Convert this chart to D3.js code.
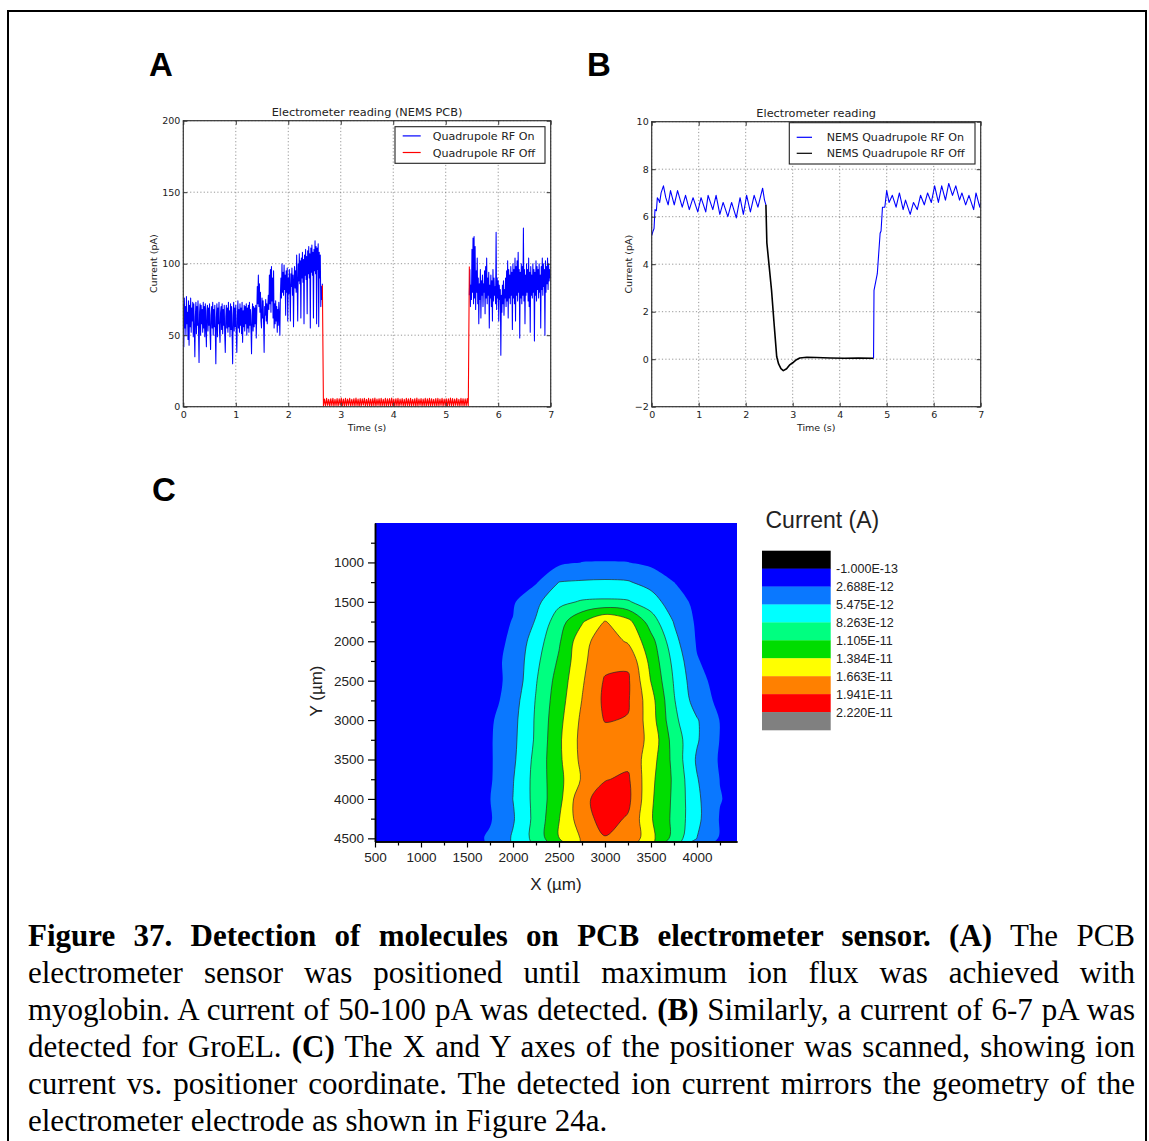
<!DOCTYPE html>
<html>
<head>
<meta charset="utf-8">
<script src="https://cdn.jsdelivr.net/npm/d3@7"></script>
<style>
  body { margin: 0; background: #fff; }
  #page { position: relative; width: 1149px; height: 1141px; overflow: hidden; background: #fff; }
  #fig { position: absolute; left: 0; top: 0; }
  .cap { position: absolute; left: 28px; width: 1107px; font-family: "Liberation Serif", "Times New Roman", serif;
         font-size: 31px; line-height: 37px; color: #000; }
  .just { text-align: justify; text-align-last: justify; }
</style>
</head>
<body>
<div id="page">
  <svg id="fig" width="1149" height="1141"></svg>
  <div id="caption"></div>
</div>
<script>
// ---------------- Panel A: NEMS PCB electrometer, myoglobin (pA) ----------------
const timeTicks = [0, 1, 2, 3, 4, 5, 6, 7];
const currentTicksA = [0, 50, 100, 150, 200];
const seriesNamesA = ["Quadrupole RF On", "Quadrupole RF Off"];

// RF on, first stretch: sampled every 0.01 s starting at 0 s
const rfOnA1Start = 0, rfOnA1Step = 0.01;
const rfOnA1 = [
  72, 42, 76, 55, 70, 50, 77, 58, 66, 47,
  74, 43, 71, 56, 76, 52, 69, 60, 73, 49,
  72, 54, 35, 63, 73, 51, 70, 57, 74, 53,
  31, 66, 72, 50, 71, 58, 68, 52, 73, 55,
  70, 49, 72, 56, 42, 67, 71, 53, 69, 57,
  72, 51, 40, 64, 70, 55, 73, 50, 68, 56,
  71, 53, 30, 62, 72, 49, 69, 58, 73, 52,
  45, 66, 70, 54, 72, 51, 68, 57, 71, 50,
  38, 63, 71, 55, 69, 52, 73, 56, 67, 49,
  72, 54, 70, 51, 30, 64, 73, 53, 69, 56,
  71, 50, 38, 62, 74, 55, 68, 52, 72, 57,
  69, 51, 73, 45, 67, 56, 71, 53, 70, 58,
  72, 50, 69, 55, 71, 52, 73, 57, 68, 54,
  37, 64, 72, 53, 70, 56, 69, 58, 71, 48,
  66, 84, 72, 92, 70, 86, 66, 80, 60, 55,
  76, 62, 74, 58, 38, 70, 64, 75, 60, 72,
  58, 70, 78, 68, 92, 72, 96, 66, 98, 74,
  90, 62, 95, 55, 72, 58, 74, 60, 70, 52,
  68, 57, 73, 62, 50, 78, 90, 76, 100, 80,
  94, 78, 99, 82, 92, 64, 95, 80, 97, 60,
  90, 79, 96, 82, 60, 93, 84, 97, 78, 92,
  56, 88, 98, 83, 95, 80, 106, 85, 60, 100,
  88, 107, 86, 102, 62, 104, 90, 108, 87, 103,
  58, 106, 92, 110, 89, 105, 65, 109, 93, 112,
  90, 107, 55, 111, 94, 113, 92, 108, 62, 110,
  95, 116, 93, 112, 58, 111, 96, 114, 56, 108,
  90, 106, 70, 84, 75, 86
];
// RF on, second stretch: sampled every 0.01 s starting at 5.45 s
const rfOnA2Start = 5.45, rfOnA2Step = 0.01;
const rfOnA2 = [
  78, 96, 70, 85, 75, 110, 80, 118, 72, 119,
  76, 112, 68, 95, 80, 104, 72, 90, 58, 86,
  75, 96, 62, 88, 78, 92, 70, 86, 80, 95,
  65, 98, 76, 104, 72, 90, 78, 94, 55, 85,
  76, 92, 70, 88, 60, 96, 74, 90, 78, 84,
  72, 122, 68, 90, 76, 88, 60, 85, 75, 82,
  36, 78, 66, 85, 72, 88, 64, 82, 76, 90,
  70, 95, 74, 102, 62, 96, 76, 92, 72, 98,
  78, 94, 54, 100, 76, 96, 72, 104, 60, 98,
  78, 102, 74, 108, 80, 96, 48, 94, 76, 100,
  72, 98, 78, 125, 74, 96, 58, 92, 78, 100,
  80, 96, 74, 104, 70, 94, 52, 98, 78, 92,
  76, 100, 80, 96, 46, 94, 78, 102, 74, 98,
  82, 96, 76, 100, 80, 92, 55, 98, 82, 104,
  78, 100, 84, 96, 50, 102, 80, 98, 86, 104,
  82, 100, 88, 96, 90, 92
];
// RF off: sampled every 0.02 s starting at 2.65 s
const rfOffAStart = 2.65, rfOffAStep = 0.02;
const rfOffA = [
  85, 0.6, 5.4, 0.3, 5.8, 0.9, 5.1, 0.2, 5.6, 0.7,
  5.9, 0.4, 5.2, 0.8, 5.7, 0.3, 5.5, 1.0, 6.0, 0.5,
  5.3, 0.2, 5.8, 0.6, 5.4, 0.9, 5.9, 0.3, 5.2, 0.7,
  5.6, 0.4, 6.1, 0.8, 5.3, 0.2, 5.7, 0.6, 5.5, 1.0,
  5.8, 0.3, 5.1, 0.7, 5.9, 0.5, 5.4, 0.2, 5.7, 0.8,
  6.0, 0.4, 5.3, 0.9, 5.6, 0.3, 5.8, 0.6, 5.2, 0.5,
  5.9, 0.2, 5.5, 0.7, 5.7, 0.4, 6.1, 0.8, 5.3, 0.3,
  5.6, 0.6, 5.8, 0.2, 5.4, 0.9, 5.7, 0.5, 5.1, 0.4,
  5.9, 0.7, 5.5, 0.3, 5.8, 0.6, 5.2, 0.8, 5.6, 0.2,
  6.0, 0.5, 5.4, 0.9, 5.7, 0.3, 5.3, 0.6, 5.9, 0.4,
  5.5, 0.8, 5.8, 0.2, 5.6, 0.7, 5.2, 0.5, 5.7, 0.3,
  5.9, 0.6, 5.4, 0.9, 5.8, 0.4, 5.3, 0.7, 5.6, 0.2,
  5.5, 0.8, 6.0, 0.3, 5.7, 0.5, 5.4, 0.9, 5.8, 0.6,
  5.2, 0.4, 5.9, 0.7, 5.6, 0.3, 5.5, 0.8, 5.7, 0.5,
  98
];

// ---------------- Panel B: electrometer, GroEL (pA) ----------------
const currentTicksB = [-2, 0, 2, 4, 6, 8, 10];
const seriesNamesB = ["NEMS Quadrupole RF On", "NEMS Quadrupole RF Off"];
const rfOnB1 = [
  [0, 5.2], [0.03, 5.4], [0.05, 5.5], [0.07, 6.3], [0.1, 6.25], [0.12, 6.8], [0.15, 6.7], [0.17, 6.6],
  [0.2, 7.0], [0.25, 7.3], [0.3, 6.8], [0.35, 6.5], [0.4, 7.1], [0.48, 6.5], [0.55, 7.1], [0.65, 6.4],
  [0.72, 6.9], [0.8, 6.3], [0.88, 6.8], [0.98, 6.2], [1.05, 6.8], [1.15, 6.2], [1.2, 6.9], [1.3, 6.3],
  [1.37, 6.9], [1.45, 6.1], [1.52, 6.6], [1.62, 6.0], [1.7, 6.6], [1.8, 5.95], [1.88, 6.8], [1.95, 6.1],
  [2.02, 6.9], [2.1, 6.2], [2.18, 6.9], [2.26, 6.4], [2.36, 7.2], [2.4, 6.7], [2.43, 6.5]
];
const rfOffB = [
  [2.43, 6.5], [2.45, 4.9], [2.5, 3.9], [2.55, 2.9], [2.6, 1.6], [2.62, 1.1], [2.66, 0.1], [2.7, -0.2],
  [2.75, -0.4], [2.8, -0.48], [2.87, -0.4], [2.93, -0.25], [3.0, -0.15], [3.08, -0.02], [3.15, 0.05],
  [3.3, 0.08], [3.5, 0.07], [3.8, 0.05], [4.1, 0.04], [4.4, 0.05], [4.72, 0.04]
];
const rfOnB2 = [
  [4.72, 0.04], [4.73, 2.9], [4.8, 3.6], [4.86, 5.3], [4.88, 5.4], [4.91, 6.4], [4.96, 6.4], [5.0, 7.1],
  [5.05, 6.6], [5.12, 6.9], [5.2, 6.4], [5.27, 7.0], [5.35, 6.3], [5.4, 6.7], [5.5, 6.1], [5.57, 6.6],
  [5.65, 6.3], [5.72, 6.9], [5.8, 6.5], [5.87, 7.0], [5.95, 6.6], [6.02, 7.3], [6.1, 6.6], [6.17, 7.3],
  [6.25, 6.7], [6.32, 7.4], [6.4, 6.9], [6.47, 7.3], [6.55, 6.7], [6.6, 7.0], [6.68, 6.5], [6.75, 6.9],
  [6.85, 6.3], [6.9, 7.0], [6.98, 6.4], [7.0, 6.6]
];

// ---------------- Panel C: ion current map vs positioner X/Y ----------------
const gridX = [500, 750, 1000, 1250, 1500, 1750, 2000, 2250, 2500, 2750, 3000, 3250, 3500, 3750, 4000, 4250, 4500];
const gridY = [500, 750, 1000, 1250, 1500, 1750, 2000, 2250, 2500, 2750, 3000, 3250, 3500, 3750, 4000, 4250, 4500];
// current in pA, one row per Y position, one column per X position
const currentPA = [
  [1.15, 1.16, 1.14, 1.15, 1.17, 1.15, 1.14, 1.16, 1.18, 1.2, 1.19, 1.17, 1.15, 1.16, 1.14, 1.15, 1.15],
  [1.15, 1.15, 1.16, 1.14, 1.15, 1.17, 1.2, 1.24, 1.3, 1.34, 1.36, 1.33, 1.28, 1.22, 1.18, 1.16, 1.15],
  [1.2, 1.21, 1.22, 1.22, 1.24, 1.27, 1.3, 1.45, 2.13, 2.72, 2.77, 2.72, 2.13, 1.5, 1.3, 1.25, 1.22],
  [1.25, 1.26, 1.26, 1.27, 1.28, 1.3, 1.35, 2.44, 5.5, 5.75, 5.89, 5.7, 4.43, 2.7, 1.57, 1.32, 1.27],
  [1.26, 1.27, 1.27, 1.28, 1.3, 1.32, 2.38, 4.83, 7.59, 8.51, 8.68, 8.51, 6.87, 3.83, 2.05, 1.35, 1.28],
  [1.26, 1.27, 1.28, 1.29, 1.32, 1.57, 2.8, 5.7, 9.85, 13.5, 16.76, 14.73, 9.66, 5.31, 2.24, 1.43, 1.29],
  [1.27, 1.27, 1.28, 1.29, 1.3, 1.74, 3.13, 6.92, 10.69, 15.76, 18.02, 16.32, 12.08, 6.37, 2.44, 1.43, 1.29],
  [1.27, 1.28, 1.28, 1.29, 1.3, 1.85, 3.44, 7.57, 11.44, 16.04, 18.58, 18.86, 12.97, 7.48, 2.85, 1.57, 1.3],
  [1.27, 1.28, 1.28, 1.29, 1.3, 1.77, 3.44, 8.07, 12.22, 16.29, 19.69, 19.83, 13.73, 8.04, 3.47, 1.8, 1.3],
  [1.27, 1.28, 1.29, 1.29, 1.3, 1.57, 4.22, 8.43, 12.67, 16.68, 19.97, 19.69, 14.95, 8.46, 4.08, 2.05, 1.3],
  [1.27, 1.28, 1.29, 1.3, 1.43, 2.27, 4.64, 8.62, 13.09, 17.18, 19.55, 19.27, 15.23, 8.88, 5.7, 2.6, 1.57],
  [1.27, 1.28, 1.29, 1.29, 1.43, 2.41, 4.81, 8.68, 13.39, 17.46, 18.3, 18.3, 15.93, 9.82, 5.75, 2.6, 1.57],
  [1.27, 1.28, 1.29, 1.3, 1.29, 2.38, 4.97, 9.1, 13.31, 17.32, 18.3, 18.72, 15.12, 10.19, 5.11, 2.41, 1.43],
  [1.27, 1.28, 1.29, 1.3, 1.29, 2.38, 5.34, 9.27, 13.03, 16.9, 19.27, 19.83, 14.53, 10.58, 5.64, 2.63, 1.57],
  [1.27, 1.28, 1.29, 1.3, 1.43, 2.63, 5.5, 9.21, 13.0, 18.72, 20.53, 20.11, 14.28, 10.49, 6.0, 2.8, 1.71],
  [1.27, 1.28, 1.29, 1.3, 1.29, 2.44, 5.22, 9.15, 13.73, 18.3, 20.39, 19.13, 14.09, 10.38, 6.14, 2.52, 1.57],
  [1.27, 1.28, 1.29, 1.3, 1.71, 3.02, 5.75, 9.27, 13.78, 16.9, 19.27, 18.86, 14.67, 10.05, 5.45, 2.41, 1.57]
];
// contour levels in A, and the fill below/between/above them
const levelsA = [-1.000e-13, 2.688e-12, 5.475e-12, 8.263e-12, 1.105e-11, 1.384e-11, 1.663e-11, 1.941e-11, 2.220e-11];
const levelColors = ["#000000", "#0000ff", "#0a78ff", "#00ffff", "#00ff80", "#00dd00", "#ffff00", "#ff8000", "#ff0000", "#808080"];
const mapTicksX = [500, 1000, 1500, 2000, 2500, 3000, 3500, 4000];
const mapMinorX = [750, 1250, 1750, 2250, 2750, 3250, 3750, 4250];
const mapTicksY = [1000, 1500, 2000, 2500, 3000, 3500, 4000, 4500];
const mapMinorY = [750, 1250, 1750, 2250, 2750, 3250, 3750, 4250];

// ---------------- Caption ----------------
const captionLines = [
  [["Figure 37. Detection of molecules on PCB electrometer sensor. (A)", true], [" The PCB", false]],
  [["electrometer sensor was positioned until maximum ion flux was achieved with", false]],
  [["myoglobin. A current of 50-100 pA was detected. ", false], ["(B)", true], [" Similarly, a current of 6-7 pA was", false]],
  [["detected for GroEL. ", false], ["(C)", true], [" The X and Y axes of the positioner was scanned, showing ion", false]],
  [["current vs. positioner coordinate. The detected ion current mirrors the geometry of the", false]],
  [["electrometer electrode as shown in Figure 24a.", false]]
];

// =====================================================================
const svg = d3.select("#fig");
const mplFont = "'DejaVu Sans', sans-serif";
const arialFont = "'Liberation Sans', Arial, sans-serif";
const sampled = (start, step, vals) => vals.map((v, i) => [start + i * step, v]);

// outer frame around the figure
svg.append("rect").attr("x", 8).attr("y", 11).attr("width", 1138).attr("height", 1145)
  .attr("fill", "none").attr("stroke", "#000").attr("stroke-width", 2);

// panel letters
[["A", 149, 76], ["B", 587, 76], ["C", 152, 501]].forEach(([t, x, y]) => {
  svg.append("text").attr("x", x).attr("y", y).text(t)
    .attr("font-family", arialFont).attr("font-weight", "bold").attr("font-size", 33).attr("fill", "#000");
});

function tracePanel(o) {
  const x = d3.scaleLinear().domain([0, 7]).range([o.left, o.right]);
  const y = d3.scaleLinear().domain(o.yDomain).range([o.bottom, o.top]);
  const g = svg.append("g");
  const clipId = o.id + "-clip";
  svg.append("clipPath").attr("id", clipId).append("rect")
    .attr("x", o.left).attr("y", o.top).attr("width", o.right - o.left).attr("height", o.bottom - o.top);

  // dotted grid
  const grid = g.append("g").attr("stroke", "#6a6a6a").attr("stroke-width", 0.7).attr("stroke-dasharray", "1.2,2.2");
  grid.selectAll(".gx").data(timeTicks).join("line").attr("class", "gx")
    .attr("x1", d => x(d)).attr("x2", d => x(d)).attr("y1", o.top).attr("y2", o.bottom);
  grid.selectAll(".gy").data(o.yTicks).join("line").attr("class", "gy")
    .attr("x1", o.left).attr("x2", o.right).attr("y1", d => y(d)).attr("y2", d => y(d));

  // traces
  const line = d3.line().x(d => x(d[0])).y(d => y(d[1]));
  const tg = g.append("g").attr("clip-path", `url(#${clipId})`);
  o.traces.forEach(tr => {
    tg.append("path").datum(tr.points).attr("d", line).attr("fill", "none")
      .attr("stroke", tr.color).attr("stroke-width", tr.width).attr("stroke-linejoin", "round");
  });

  // frame
  g.append("rect").attr("x", o.left).attr("y", o.top).attr("width", o.right - o.left).attr("height", o.bottom - o.top)
    .attr("fill", "none").attr("stroke", "#333").attr("stroke-width", 1.2);

  // ticks pointing inward on all four sides
  const styleAxis = sel => {
    sel.select(".domain").remove();
    sel.selectAll(".tick line").attr("stroke", "#333").attr("stroke-width", 1);
    sel.selectAll(".tick text").attr("fill", "#222").attr("font-family", mplFont).attr("font-size", 9.5);
  };
  g.append("g").attr("transform", `translate(0,${o.bottom})`)
    .call(d3.axisBottom(x).tickValues(timeTicks).tickFormat(d3.format("d")).tickSize(-4).tickPadding(5)).call(styleAxis);
  g.append("g").attr("transform", `translate(0,${o.top})`)
    .call(d3.axisTop(x).tickValues(timeTicks).tickFormat("").tickSize(-4)).call(styleAxis);
  g.append("g").attr("transform", `translate(${o.left},0)`)
    .call(d3.axisLeft(y).tickValues(o.yTicks).tickFormat(d3.format("d")).tickSize(-4).tickPadding(3)).call(styleAxis);
  g.append("g").attr("transform", `translate(${o.right},0)`)
    .call(d3.axisRight(y).tickValues(o.yTicks).tickFormat("").tickSize(-4)).call(styleAxis);

  // titles
  g.append("text").attr("x", (o.left + o.right) / 2).attr("y", o.top - 4.5).attr("text-anchor", "middle")
    .attr("font-family", mplFont).attr("font-size", 11.3).attr("fill", "#222").text(o.title);
  g.append("text").attr("x", (o.left + o.right) / 2).attr("y", o.bottom + 24.5).attr("text-anchor", "middle")
    .attr("font-family", mplFont).attr("font-size", 9.5).attr("fill", "#222").text("Time (s)");
  g.append("text").attr("transform", `translate(${o.ylabelX},${(o.top + o.bottom) / 2}) rotate(-90)`)
    .attr("text-anchor", "middle").attr("font-family", mplFont).attr("font-size", 9.5).attr("fill", "#222")
    .text("Current (pA)");

  // legend
  const L = o.legend;
  const lg = g.append("g");
  lg.append("rect").attr("x", L.x).attr("y", L.y).attr("width", L.w).attr("height", L.h)
    .attr("fill", "#fff").attr("stroke", "#222").attr("stroke-width", 1.1);
  L.items.forEach((it, i) => {
    const cy = L.y + L.row0 + i * L.rowStep;
    lg.append("line").attr("x1", L.x + L.lineX0).attr("x2", L.x + L.lineX1).attr("y1", cy).attr("y2", cy)
      .attr("stroke", it.color).attr("stroke-width", 1.2);
    lg.append("text").attr("x", L.x + L.textX).attr("y", cy + 4).attr("font-family", mplFont)
      .attr("font-size", 11.1).attr("fill", "#222").text(it.name);
  });
}

tracePanel({
  id: "pa", left: 183.3, right: 550.7, top: 120.7, bottom: 406.7, yDomain: [0, 200], yTicks: currentTicksA,
  title: "Electrometer reading (NEMS PCB)", ylabelX: 156.5,
  traces: [
    { points: sampled(rfOnA1Start, rfOnA1Step, rfOnA1), color: "#0000ff", width: 1.05 },
    { points: sampled(rfOnA2Start, rfOnA2Step, rfOnA2), color: "#0000ff", width: 1.05 },
    { points: sampled(rfOffAStart, rfOffAStep, rfOffA), color: "#ff0000", width: 1.1 }
  ],
  legend: { x: 395, y: 126.7, w: 150, h: 36.6, row0: 9.2, rowStep: 16.6, lineX0: 7.7, lineX1: 25.7, textX: 37.7,
            items: [{ name: seriesNamesA[0], color: "#0000ff" }, { name: seriesNamesA[1], color: "#ff0000" }] }
});

tracePanel({
  id: "pb", left: 651.7, right: 980.7, top: 121.7, bottom: 406.7, yDomain: [-2, 10], yTicks: currentTicksB,
  title: "Electrometer reading", ylabelX: 631.7,
  traces: [
    { points: rfOnB1, color: "#0000ff", width: 1.1 },
    { points: rfOffB, color: "#000000", width: 1.6 },
    { points: rfOnB2, color: "#0000ff", width: 1.1 }
  ],
  legend: { x: 789.3, y: 122.7, w: 185.7, h: 41.3, row0: 14.6, rowStep: 16, lineX0: 7.4, lineX1: 22.7, textX: 37.4,
            items: [{ name: seriesNamesB[0], color: "#0000ff" }, { name: seriesNamesB[1], color: "#000000" }] }
});

// ---------------- Panel C drawing ----------------
(function mapPanel() {
  const left = 375, right = 737, top = 523, bottom = 841.5;
  const x = d3.scaleLinear().domain([500, 4435]).range([left, right]);
  const y = d3.scaleLinear().domain([500, 4540]).range([top, bottom]);
  // grid cell coordinates (value i sits at i + 0.5) -> positioner coordinates
  const gx = d3.scaleLinear().domain([0.5, gridX.length - 0.5]).range([gridX[0], gridX[gridX.length - 1]]);
  const gy = d3.scaleLinear().domain([0.5, gridY.length - 0.5]).range([gridY[0], gridY[gridY.length - 1]]);

  const g = svg.append("g");
  svg.append("clipPath").attr("id", "map-clip").append("rect")
    .attr("x", left).attr("y", top).attr("width", right - left).attr("height", bottom - top);
  const cg = g.append("g").attr("clip-path", "url(#map-clip)");
  cg.append("rect").attr("x", left).attr("y", top).attr("width", right - left).attr("height", bottom - top)
    .attr("fill", levelColors[0]);

  const values = currentPA.flat().map(v => v * 1e-12);
  const bands = d3.contours().size([gridX.length, gridY.length]).thresholds(levelsA)(values);
  const ringLine = d3.line().curve(d3.curveCatmullRomClosed.alpha(0.5));
  const toPath = mp => mp.coordinates.map(poly => poly.map(ring => {
    const pts = ring.slice(0, -1).map(([c, r]) => [x(gx(c)), y(gy(r))]);
    return ringLine(pts);
  }).join("")).join("");

  bands.forEach((b, i) => {
    if (!b.coordinates.length) return;
    cg.append("path").attr("d", toPath(b)).attr("fill", levelColors[i + 1]).attr("fill-rule", "evenodd")
      .attr("stroke", i >= 2 ? "#2a2a2a" : "none").attr("stroke-width", 0.7);
  });

  const styleAxis = sel => {
    sel.select(".domain").attr("stroke", "#000").attr("stroke-width", 1.5);
    sel.selectAll(".tick line").attr("stroke", "#000").attr("stroke-width", 1.2);
    sel.selectAll(".tick text").attr("fill", "#222").attr("font-family", arialFont).attr("font-size", 13.5);
  };
  g.append("g").attr("transform", `translate(${left},0)`)
    .call(d3.axisLeft(y).tickValues(mapMinorY).tickFormat("").tickSize(4).tickSizeOuter(0)).call(styleAxis);
  g.append("g").attr("transform", `translate(${left},0)`)
    .call(d3.axisLeft(y).tickValues(mapTicksY).tickFormat(d3.format("d")).tickSize(7).tickSizeOuter(0).tickPadding(4))
    .call(styleAxis);
  g.append("g").attr("transform", `translate(0,${bottom})`)
    .call(d3.axisBottom(x).tickValues(mapMinorX).tickFormat("").tickSize(4).tickSizeOuter(0)).call(styleAxis);
  g.append("g").attr("transform", `translate(0,${bottom})`)
    .call(d3.axisBottom(x).tickValues(mapTicksX).tickFormat(d3.format("d")).tickSize(6).tickSizeOuter(0).tickPadding(5))
    .call(styleAxis);

  g.append("text").attr("x", (left + right) / 2).attr("y", 890).attr("text-anchor", "middle")
    .attr("font-family", arialFont).attr("font-size", 17).attr("fill", "#222").text("X (\u00b5m)");
  g.append("text").attr("transform", `translate(322,691) rotate(-90)`).attr("text-anchor", "middle")
    .attr("font-family", arialFont).attr("font-size", 17).attr("fill", "#222").text("Y (\u00b5m)");

  // colour legend
  const lg = svg.append("g");
  lg.append("text").attr("x", 765.5).attr("y", 528).attr("font-family", arialFont).attr("font-size", 23)
    .attr("fill", "#222").text("Current (A)");
  const ly = d3.scaleLinear().domain([0, levelColors.length]).range([550.7, 730]);
  lg.selectAll(".band").data(levelColors).join("rect").attr("class", "band")
    .attr("x", 762).attr("width", 68.7).attr("y", (d, i) => ly(i)).attr("height", (d, i) => ly(i + 1) - ly(i) + 0.3)
    .attr("fill", d => d);
  const fmtE = v => v.toExponential(3).toUpperCase();
  lg.selectAll(".lvl").data(levelsA).join("text").attr("class", "lvl")
    .attr("x", 836).attr("y", (d, i) => ly(i + 1) + 4.5)
    .attr("font-family", arialFont).attr("font-size", 12.5).attr("fill", "#222").text(fmtE);
})();

// ---------------- caption ----------------
const cap = d3.select("#caption");
captionLines.forEach((segs, i) => {
  const div = cap.append("div").attr("class", "cap" + (i < captionLines.length - 1 ? " just" : ""))
    .style("top", (917 + 37 * i) + "px");
  segs.forEach(([t, b]) => div.append("span").style("font-weight", b ? "bold" : "normal").text(t));
});
</script>
</body>
</html>
